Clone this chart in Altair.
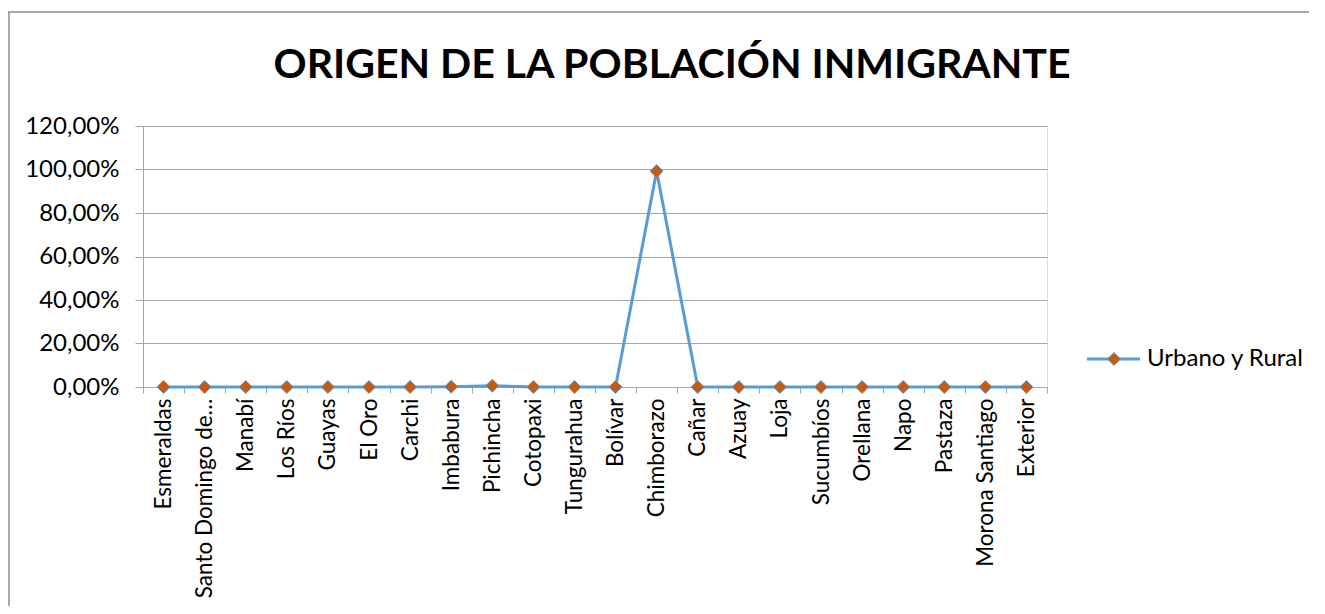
import altair as alt
import pandas as pd

categories = ["Esmeraldas", "Santo Domingo de los Tsáchilas", "Manabí", "Los Ríos",
              "Guayas", "El Oro", "Carchi", "Imbabura", "Pichincha", "Cotopaxi",
              "Tungurahua", "Bolívar", "Chimborazo", "Cañar", "Azuay", "Loja",
              "Sucumbíos", "Orellana", "Napo", "Pastaza", "Morona Santiago", "Exterior"]
values = [0.0, 0.0, 0.0, 0.0, 0.0, 0.0, 0.0, 0.0015, 0.006, 0.0, 0.0, 0.0,
          0.9925, 0.0, 0.0, 0.0, 0.0, 0.0, 0.0, 0.0, 0.0, 0.0]
y_ticks = [0, 0.2, 0.4, 0.6, 0.8, 1.0, 1.2]
series_name = "Urbano y Rural"
title_text = "ORIGEN DE LA POBLACIÓN INMIGRANTE"

LINE = "#5B9BD5"
MARK = "#C55A11"
GRID = "#A6A6A6"
FONT = "Lato"
FS = 24

df = pd.DataFrame({"region": categories, "value": values})

x_enc = alt.X("region:N", sort=categories, bandPosition=0.5,
              scale=alt.Scale(type="band", paddingInner=0, paddingOuter=0),
              axis=alt.Axis(title=None, labelAngle=270, labelFontSize=22.5, labelFont=FONT,
                            labelColor="#000000", labelLimit=203, labelPadding=5,
                            tickBand="extent", tickSize=6, tickColor=GRID,
                            domainColor=GRID, grid=False, labelOverlap=False))
y_enc = alt.Y("value:Q", scale=alt.Scale(domain=[0, 1.2], nice=False),
              axis=alt.Axis(title=None, values=y_ticks,
                            labelExpr="replace(format(datum.value, '.2%'), '.', ',')",
                            labelFontSize=FS, labelFont=FONT, labelColor="#000000",
                            labelPadding=16, tickSize=8, tickColor=GRID,
                            domainColor=GRID, gridColor=GRID, gridWidth=1))

base = alt.Chart(df)
line = base.mark_line(color=LINE, strokeWidth=3).encode(x=x_enc, y=y_enc)
pts = base.mark_point(shape="diamond", filled=True, fill=MARK, stroke=LINE,
                      strokeWidth=1, size=170, opacity=1).encode(x=x_enc, y=y_enc)

leg_df = pd.DataFrame({"series": [series_name]})
leg = alt.Chart(leg_df)
leg_line = leg.mark_rule(color=LINE, strokeWidth=3).encode(
    x=alt.value(944), x2=alt.value(997), y=alt.value(233))
leg_pt = leg.mark_point(shape="diamond", filled=True, fill=MARK, stroke=LINE,
                        strokeWidth=1, size=170, opacity=1).encode(
    x=alt.value(971), y=alt.value(233))
leg_txt = leg.mark_text(align="left", baseline="middle", font=FONT, fontSize=FS,
                        color="#000000").encode(
    x=alt.value(1004), y=alt.value(233), text="series:N")

border_l = leg.mark_rule(color="#8C8C8C", strokeWidth=1.5).encode(
    x=alt.value(-134), y=alt.value(-114), y2=alt.value(600))
border_t = leg.mark_rule(color="#8C8C8C", strokeWidth=1.5).encode(
    x=alt.value(-135), x2=alt.value(1300), y=alt.value(-114))

chart = alt.layer(line, pts, leg_line, leg_pt, leg_txt, border_l, border_t).properties(
    width=904, height=261,
    title=alt.TitleParams(title_text, font=FONT, fontSize=41, fontWeight="bold",
                          color="#000000", anchor="middle", dx=77, offset=-108,
                          baseline="alphabetic"),
    autosize=alt.AutoSizeParams(type="none"),
    padding={"left": 135, "top": 118, "right": 262, "bottom": 219},
).configure_view(stroke=None).configure(background="white")

chart.save("out.html", embed_options={"renderer": "svg", "actions": False})
